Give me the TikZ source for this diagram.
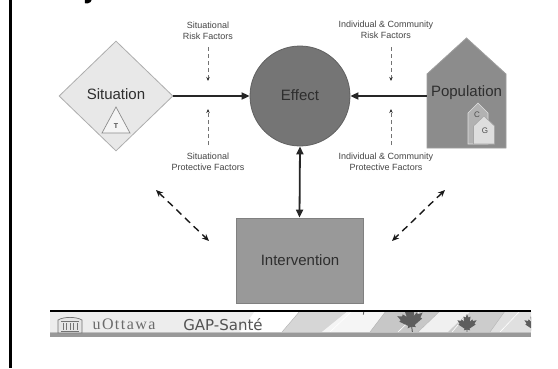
\documentclass[tikz,border=0pt]{standalone}
\usepackage{fontspec}
\setmainfont{Liberation Sans}
\newfontfamily\serifface[LetterSpace=9]{Liberation Serif}
\newfontfamily\wideface{DejaVu Sans}
\usetikzlibrary{shapes.geometric,arrows.meta,calc}

\definecolor{shapetext}{HTML}{2E2E2E}
\definecolor{labeltext}{HTML}{454545}
\definecolor{leafgray}{HTML}{5E5E5E}

% maple leaf: x, y, half size, rotation
\newcommand{\mapleleafat}[4]{%
  \fill[leafgray, shift={(#1,#2)}, rotate=#4, scale=#3, yscale=-1]
    (0,1) -- (0.12,0.7) -- (0.3,0.78) -- (0.22,0.35) -- (0.45,0.55) -- (0.5,0.42)
    -- (0.8,0.48) -- (0.62,0.2) -- (0.72,0.12) -- (0.2,-0.22) -- (0.26,-0.36)
    -- (0.03,-0.3) -- (0.03,-0.65) -- (-0.03,-0.65) -- (-0.03,-0.3) -- (-0.26,-0.36)
    -- (-0.2,-0.22) -- (-0.72,0.12) -- (-0.62,0.2) -- (-0.8,0.48) -- (-0.5,0.42)
    -- (-0.45,0.55) -- (-0.22,0.35) -- (-0.3,0.78) -- (-0.12,0.7) -- cycle;}

\tikzset{
  shapelabel/.style={text=shapetext, font=\fontsize{15}{18}\selectfont},
  factor/.style={text=labeltext, align=center, font=\fontsize{9}{11}\selectfont, inner sep=1pt},
  mainarrow/.style={line width=1.8pt, draw=black!85, -{Triangle[length=8pt,width=7pt]}},
  bothmain/.style={line width=1.8pt, draw=black!85, {Triangle[length=8pt,width=7pt]}-{Triangle[length=8pt,width=7pt]}},
  factorarrow/.style={draw=black!55, line width=0.7pt, dash pattern=on 4pt off 3pt, -{Stealth[length=4pt,width=3.5pt,black!80]}},
  linkarrow/.style={draw=black!90, line width=1.4pt, dash pattern=on 7pt off 5pt,
    {Stealth[length=7pt,width=6pt]}-{Stealth[length=7pt,width=6pt]}},
}

\begin{document}
\begin{tikzpicture}[x=1pt, y=-1pt]
\useasboundingbox (0,0) rectangle (558,368);
\fill[white] (0,0) rectangle (558,368);

% slide frame edge and the tail of the cut-off title letter
\draw[line width=2.4pt] (10.5,0) -- (10.5,368);
\fill (85,0) -- (91.5,0) -- (90.5,2) .. controls (89,3.6) and (86.5,3.8) .. (84.8,3.2) -- cycle;

% Situation
\node[diamond, draw=black!32, fill=black!9, line width=0.8pt, minimum width=114pt,
      minimum height=110pt, inner sep=0pt, aspect=1] (sit) at (116,96) {};
\node[shapelabel] (sittext) at (116,94) {Situation};
\draw[draw=black!45, fill=black!4, line width=0.7pt] (116,107) -- (130,133) -- (102,133) -- cycle;
\node[font=\fontsize{7}{8}\selectfont\bfseries, text=black!70, inner sep=0pt] (tlabel) at (116,126) {T};

% Effect
\node[circle, draw=black!62, fill=black!54, line width=0.8pt, minimum size=100pt, inner sep=0pt] (eff) at (300,96) {};
\node[shapelabel] (efftext) at (300,95) {Effect};

% Population house
\draw[draw=black!38, fill=black!45, line width=0.8pt]
  (427,148) -- (427,74) -- (466.5,38) -- (506,74) -- (506,148) -- cycle;
\node[inner sep=0pt, minimum width=79pt, minimum height=74pt] (pop) at (466.5,111) {};
\node[shapelabel, inner sep=0pt] (poptext) at (466.5,93) {Population};
\draw[draw=black!12, fill=black!30, line width=0.6pt]
  (468,144) -- (468,113) -- (478,103) -- (488,113) -- (488,144) -- cycle;
\node[font=\fontsize{8}{9}\selectfont, text=black!70, inner sep=0pt] (ctext) at (477,115) {C};
\draw[draw=black!35, fill=black!13, line width=0.6pt]
  (473.5,144) -- (473.5,126) -- (484,116) -- (494.5,126) -- (494.5,144) -- cycle;
\node[font=\fontsize{8}{9}\selectfont, text=black!70, inner sep=0pt] (gtext) at (485,131) {G};

% Intervention
\node[rectangle, draw=black!50, fill=black!40, line width=0.8pt, minimum width=127pt,
      minimum height=85pt, inner sep=0pt] (int) at (299.5,260.5) {};
\node[shapelabel] (inttext) at (300,260) {Intervention};

% main connectors
\draw[mainarrow] (sit.east) -- (eff.west);
\draw[mainarrow] (pop.west |- eff.center) -- (eff.east);
\draw[bothmain] (eff.south) -- (int.north);

% factor labels
\node[factor] (srisk) at (208,31) {Situational\\Risk Factors};
\node[factor] (sprot) at (208,162) {Situational\\Protective Factors};
\node[factor] (crisk) at (386,30) {Individual \& Community\\Risk Factors};
\node[factor] (cprot) at (386,162) {Individual \& Community\\Protective Factors};

\coordinate (sriskend) at (208,81);
\coordinate (sprotend) at (208,109);
\coordinate (criskend) at (391,81);
\coordinate (cprotend) at (391,109);
\draw[factorarrow] (208,47) -- (sriskend);
\draw[factorarrow] (208,145) -- (sprotend);
\draw[factorarrow] (391,47) -- (criskend);
\draw[factorarrow] (391,145) -- (cprotend);

% links between Situation / Population and Intervention
\coordinate (lla) at (156,190);
\coordinate (llb) at (209,241);
\coordinate (rla) at (445,190);
\coordinate (rlb) at (392,241);
\draw[linkarrow] (lla) -- (llb);
\draw[linkarrow] (rla) -- (rlb);

% footer banner
\begin{scope}
  \clip (50,311) rectangle (531,337);
  \fill[black!7] (50,311) rectangle (531,332);
  \fill[white] (255,311) -- (300,311) -- (282,332) -- (240,332) -- cycle;
  \fill[black!16] (300,311) -- (348,311) -- (322,332) -- (282,332) -- cycle;
  \fill[black!4] (348,311) -- (386,311) -- (370,332) -- (322,332) -- cycle;
  \fill[black!22] (386,311) -- (440,311) -- (418,332) -- (370,332) -- cycle;
  \fill[black!6] (440,311) -- (470,311) -- (448,332) -- (418,332) -- cycle;
  \fill[black!20] (470,311) -- (505,311) -- (490,332) -- (448,332) -- cycle;
  \fill[black!12] (505,311) -- (531,311) -- (531,332) -- (490,332) -- cycle;
  \draw[white, line width=0.6pt] (262,332) -- (300,311) (330,332) -- (352,311) (398,332) -- (420,311) (452,332) -- (470,311) (500,332) -- (520,311);
  \draw[black!30, line width=0.4pt] (282,332) -- (300,311) (370,332) -- (386,311) (418,332) -- (440,311) (490,332) -- (505,311);
  \mapleleafat{365}{305}{15}{-10}
  \mapleleafat{411}{322}{16}{8}
  \mapleleafat{467}{326}{12}{0}
  \mapleleafat{534}{326}{12}{0}
  \fill[black!40] (50,332) rectangle (531,337);
  \fill[black!25] (50,332) rectangle (531,333);
\end{scope}
\draw[line width=2pt] (50,310.5) -- (531,310.5);

% university emblem
\begin{scope}[draw=black!55, line width=0.7pt]
  \draw[fill=black!10] (58,333) -- (58,320) .. controls (64,316.5) and (76,316.5) .. (82,320) -- (82,333) -- cycle;
  \draw (61,321.5) -- (79,321.5) (61,331) -- (79,331);
  \foreach \cx in {63,66.5,70,73.5,77} { \draw (\cx,323) -- (\cx,329.5); }
\end{scope}
\node[text=black!58, inner sep=0pt, font=\serifface\fontsize{16}{18}\selectfont] (uo) at (124,324.5) {uOttawa};
\node[text=black!68, inner sep=0pt, font=\wideface\fontsize{15}{18}\selectfont] (gap) at (223,324.5) {GAP-Santé};
\end{tikzpicture}
\end{document}
